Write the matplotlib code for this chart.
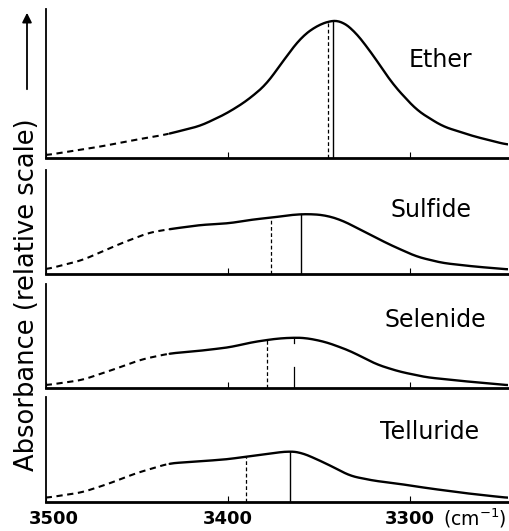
"""
IR absorbance of the O-H band for ether / sulfide / selenide / telluride.
"""

import numpy as np
import matplotlib
matplotlib.use('Agg')
import matplotlib.pyplot as plt
from matplotlib.transforms import ScaledTranslation

# wavenumbers (cm-1) and relative absorbance
ether_x = [3500, 3470, 3448, 3434, 3415, 3401, 3390, 3379, 3370, 3360, 3351,
           3342, 3338, 3331, 3322, 3309, 3296, 3282, 3265, 3246]
ether_y = [0.02, 0.083, 0.138, 0.17, 0.233, 0.32, 0.41, 0.53, 0.695, 0.87, 0.96,
           1.0, 0.995, 0.93, 0.78, 0.53, 0.345, 0.23, 0.158, 0.095]

sulfide_x = [3500, 3480, 3458, 3443, 3432, 3415, 3399, 3386, 3375, 3364, 3355,
             3346, 3337, 3324, 3311, 3296, 3282, 3265, 3246]
sulfide_y = [0.033, 0.1, 0.225, 0.3, 0.325, 0.355, 0.368, 0.395, 0.41, 0.43, 0.435,
             0.425, 0.388, 0.3, 0.213, 0.125, 0.08, 0.055, 0.033]

selenide_x = [3500, 3480, 3463, 3447, 3432, 3415, 3399, 3386, 3373, 3364, 3357,
              3346, 3333, 3318, 3306, 3291, 3273, 3246]
selenide_y = [0.02, 0.058, 0.133, 0.208, 0.25, 0.27, 0.295, 0.333, 0.358, 0.365, 0.363,
              0.333, 0.27, 0.17, 0.12, 0.078, 0.053, 0.02]

telluride_x = [3500, 3480, 3466, 3450, 3432, 3415, 3400, 3388, 3375, 3366, 3360,
               3351, 3340, 3333, 3320, 3305, 3290, 3270, 3246]
telluride_y = [0.03, 0.07, 0.13, 0.21, 0.28, 0.295, 0.31, 0.332, 0.355, 0.368, 0.36,
               0.31, 0.24, 0.19, 0.155, 0.13, 0.1, 0.065, 0.03]

names = ['Ether', 'Sulfide', 'Selenide', 'Telluride']
band_x = [ether_x, sulfide_x, selenide_x, telluride_x]
band_y = [ether_y, sulfide_y, selenide_y, telluride_y]
dashed_pos = [3345, 3376, 3378.5, 3390]   # dashed marker lines
solid_pos = [3342, 3360, 3363.5, 3366]    # solid marker lines
dash_end = 3432                           # curve drawn dashed above this

xticks = [3500, 3400, 3300]
xticklabels = ['3500', '3400', '3300']

###

W, H = 510, 531
fig = plt.figure(figsize=(W / 100, H / 100), dpi=100)

# panel (top px, bottom px), label centre (x px, y px)
panels = [(9, 158), (170, 274), (284, 388), (397, 502)]
label_pos = [(440, 60), (431, 210), (435, 320), (430, 432)]
left_px, right_px = 45.7, 508
px_per_unit = 138.0

lw = 1.5
for i, (top, bot) in enumerate(panels):
    ax = fig.add_axes([left_px / W, 1 - bot / H, (right_px - left_px) / W, (bot - top) / H])
    ax.set_xlim(3500, 3246)
    ax.set_ylim(0, (bot - top) / px_per_unit)
    x = np.array(band_x[i], dtype=float)
    y = np.array(band_y[i], dtype=float)
    # smooth through the read points
    xs = np.linspace(x.min(), x.max(), 400)[::-1]
    ys = np.interp(xs, x[::-1], y[::-1])
    k = np.ones(15) / 15
    ys = np.convolve(np.pad(ys, 7, mode='edge'), k, mode='valid')
    m = xs >= dash_end
    ax.plot(xs[m], ys[m], color='black', lw=lw, dashes=(3, 2.2))
    ax.plot(xs[~m], ys[~m], color='black', lw=lw + 0.2, solid_capstyle='round')

    yd = np.interp(dashed_pos[i], xs[::-1], ys[::-1])
    ys_ = np.interp(solid_pos[i], xs[::-1], ys[::-1])
    ax.plot([dashed_pos[i]] * 2, [0, yd], color='black', lw=0.9, dashes=(3, 2))
    if names[i] == 'Selenide':
        ax.plot([solid_pos[i]] * 2, [0, 0.15], color='black', lw=0.9)
        ax.plot([solid_pos[i]] * 2, [ys_ - 0.04, ys_], color='black', lw=0.9)
    else:
        ax.plot([solid_pos[i]] * 2, [0, ys_], color='black', lw=1.0)

    lx, ly = label_pos[i]
    fig.text(lx / W, 1 - ly / H, names[i], ha='center', va='center', fontsize=17)

    for s in ['top', 'right']:
        ax.spines[s].set_visible(False)
    ax.spines['left'].set_linewidth(1.3)
    ax.spines['bottom'].set_linewidth(2.0)
    ax.set_yticks([])
    ax.set_xticks(xticks)
    ax.tick_params(axis='x', direction='in', length=4, width=0.8)
    if i < 3:
        ax.set_xticklabels([])
    else:
        ax.set_xticklabels(xticklabels, fontsize=13, fontweight='bold')
        ax.tick_params(axis='x', pad=6)
        first = ax.get_xticklabels()[0]
        first.set_transform(first.get_transform() + ScaledTranslation(8 / 100, 0, fig.dpi_scale_trans))
        fig.text(507 / W, 1 - 518 / H, '(cm$^{-1}$)', ha='right', va='center', fontsize=13.5)

fig.text(27 / W, 1 - 295 / H, 'Absorbance (relative scale)', rotation=90,
         ha='center', va='center', fontsize=18.5)
fig.add_artist(matplotlib.patches.FancyArrowPatch(
    (27 / W, 1 - 92 / H), (27 / W, 1 - 10 / H), transform=fig.transFigure,
    arrowstyle='-|>', mutation_scale=14, color='black', lw=1.3))

fig.savefig('out.png', dpi=100)
